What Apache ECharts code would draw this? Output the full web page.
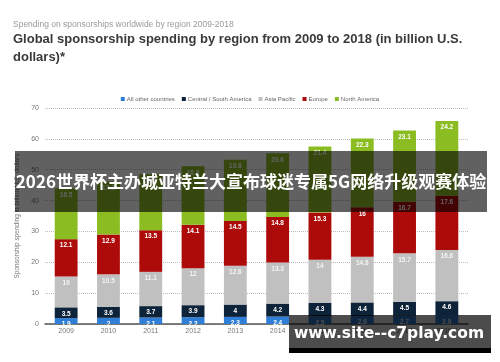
<!DOCTYPE html>
<html>
<head>
<meta charset="utf-8">
<script src="https://cdn.jsdelivr.net/npm/echarts@6/dist/echarts.min.js"></script>
<style>html,body{margin:0;padding:0;background:#fff}#c{width:500px;height:362px}</style>
</head>
<body>
<div id="c"></div>
<script>
const years = ['2009','2010','2011','2012','2013','2014','2015','2016','2017','2018**'];
const allOther = [1.9, 2, 2.1, 2.2, 2.3, 2.4, 2.5, 2.6, 2.7, 2.8];
const centralSouth = [3.5, 3.6, 3.7, 3.9, 4, 4.2, 4.3, 4.4, 4.5, 4.6];
const asiaPacific = [10, 10.5, 11.1, 12, 12.6, 13.3, 14, 14.8, 15.7, 16.6];
const europe = [12.1, 12.9, 13.5, 14.1, 14.5, 14.8, 15.3, 16, 16.7, 17.6];
const northAmerica = [16.5, 17.2, 18.1, 18.9, 19.8, 20.6, 21.4, 22.3, 23.1, 24.2];
const seriesNames = ['All other countries','Central / South America','Asia Pacific','Europe','North America'];
const colors = ['#2f7ed8','#0d233a','#c0c0c0','#ad0a0a','#8bbc21'];
const seriesData = [allOther, centralSouth, asiaPacific, europe, northAmerica];

const chart = echarts.init(document.getElementById('c'));
const FONT = '"Liberation Sans", Arial, sans-serif';
chart.setOption({
  animation: false,
  textStyle: {fontFamily: FONT},
  title: [
    {text: 'Spending on sponsorships worldwide by region 2009-2018', left: 8, top: 15,
     textStyle: {fontSize: 8.5, fontWeight: 'normal', color: '#9a9a9a', fontFamily: FONT}},
    {text: 'Global sponsorship spending by region from 2009 to 2018 (in billion U.S.\ndollars)*', left: 8, top: 25,
     textStyle: {fontSize: 13, fontWeight: 'bold', color: '#3a3a3a', lineHeight: 18, fontFamily: FONT}}
  ],
  legend: {
    top: 91, left: 'center', itemWidth: 4, itemHeight: 4, itemGap: 7,
    icon: 'rect',
    textStyle: {fontSize: 6, color: '#666', padding: [0,0,0,-3]},
    data: seriesNames
  },
  grid: {left: 45, right: 32, top: 108, bottom: 38},
  xAxis: {
    type: 'category', data: years,
    axisLine: {lineStyle: {color: '#555', width: 1.5}},
    axisTick: {show: false},
    axisLabel: {fontSize: 7, color: '#777', margin: 4}
  },
  yAxis: {
    type: 'value', min: 0, max: 70, interval: 10,
    name: 'Sponsorship spending in billion U.S. dollars',
    nameLocation: 'middle', nameGap: 17,
    nameTextStyle: {fontSize: 6.5, color: '#777'},
    axisLine: {show: false}, axisTick: {show: false},
    axisLabel: {fontSize: 7, color: '#777', margin: 6},
    splitLine: {lineStyle: {type: 'dotted', color: '#bbb'}}
  },
  series: seriesData.map((d, i) => ({
    name: seriesNames[i], type: 'bar', stack: 'total', data: d,
    barWidth: '54%',
    itemStyle: {color: colors[i]},
    label: {show: true, position: 'insideTop', distance: 3, fontSize: 6.5, fontWeight: 'bold',
            color: i === 2 ? '#f4f4f4' : '#fff'}
  })),
  graphic: [
    {type: 'rect', z: 100, shape: {x: 15, y: 151, width: 472, height: 61}, style: {fill: 'rgba(0,0,0,0.62)'}},
    {type: 'text', z: 101, x: 251, y: 182, style: {text: '2026世界杯主办城亚特兰大宣布球迷专属5G网络升级观赛体验',
      fill: '#fff', font: 'bold 17px "Noto Sans CJK SC", sans-serif', align: 'center', verticalAlign: 'middle'}},
    {type: 'rect', z: 100, shape: {x: 289, y: 315, width: 202, height: 33}, style: {fill: 'rgba(0,0,0,0.7)'}},
    {type: 'rect', z: 100, shape: {x: 289, y: 348, width: 202, height: 5}, style: {fill: '#000'}},
    {type: 'text', z: 101, x: 389, y: 334, style: {text: 'www.site--c7play.com',
      fill: '#fff', font: 'bold 15.5px "DejaVu Sans", sans-serif', align: 'center', verticalAlign: 'middle'}}
  ]
});
</script>
</body>
</html>
